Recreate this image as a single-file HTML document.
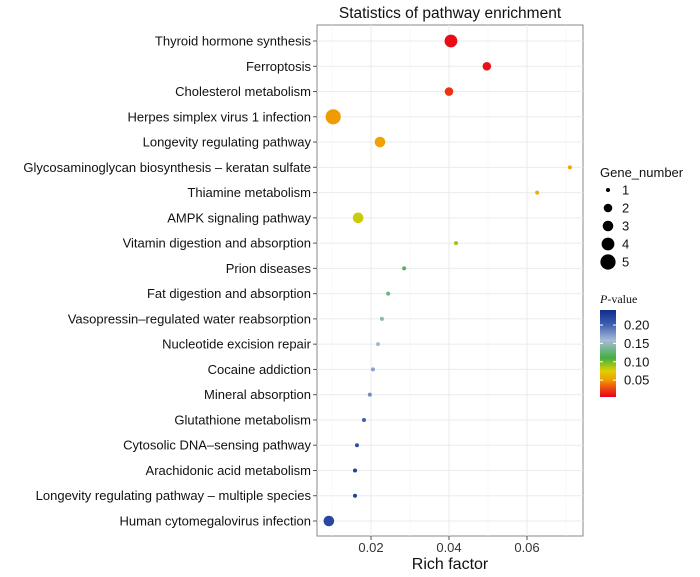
<!DOCTYPE html>
<html><head><meta charset="utf-8"><style>
body{margin:0;background:#fff;}
svg{display:block;font-family:"Liberation Sans",Arial,sans-serif;}
</style></head><body>
<svg id="chart" width="700" height="577" viewBox="0 0 700 577">
<defs>
<linearGradient id="pgrad" x1="0" y1="1" x2="0" y2="0">
<stop offset="0" stop-color="#e8001a"/>
<stop offset="0.11" stop-color="#f05010"/>
<stop offset="0.2" stop-color="#f0a000"/>
<stop offset="0.3" stop-color="#e0d000"/>
<stop offset="0.45" stop-color="#40b040"/>
<stop offset="0.65" stop-color="#a8bcd8"/>
<stop offset="0.83" stop-color="#4060b0"/>
<stop offset="1" stop-color="#102c90"/>
</linearGradient>
</defs>
<text x="450" y="18" font-size="15.5" text-anchor="middle" fill="#111">Statistics of pathway enrichment</text>
<rect x="317" y="25" width="266" height="511" fill="#fff" stroke="#888" stroke-width="1"/>
<g id="grid"></g>
<g id="ylabels"></g>
<g id="xticks"></g>
<g id="points"></g>
<text x="450" y="569" font-size="16" text-anchor="middle" fill="#111">Rich factor</text>
<g>
<text x="600" y="177" font-size="13" fill="#111">Gene_number</text>
<g id="sizeleg"></g>
</g>
<g>
<text x="600" y="303" font-size="12" font-family="Liberation Serif,serif" fill="#111"><tspan font-style="italic">P</tspan>-value</text>
<rect x="600" y="310" width="16" height="87" fill="url(#pgrad)"/>
<g id="colleg"></g>
</g>
</svg>
<script>
const pathways=["Thyroid hormone synthesis","Ferroptosis","Cholesterol metabolism","Herpes simplex virus 1 infection","Longevity regulating pathway","Glycosaminoglycan biosynthesis \u2013 keratan sulfate","Thiamine metabolism","AMPK signaling pathway","Vitamin digestion and absorption","Prion diseases","Fat digestion and absorption","Vasopressin\u2013regulated water reabsorption","Nucleotide excision repair","Cocaine addiction","Mineral absorption","Glutathione metabolism","Cytosolic DNA\u2013sensing pathway","Arachidonic acid metabolism","Longevity regulating pathway \u2013 multiple species","Human cytomegalovirus infection"];
const richFactor=[0.0405,0.0497,0.040,0.0103,0.0223,0.071,0.0626,0.0167,0.0418,0.0285,0.0244,0.0228,0.0218,0.0205,0.0197,0.0182,0.0164,0.0159,0.0159,0.0092];
const geneNumber=[4,2,2,5,3,1,1,3,1,1,1,1,1,1,1,1,1,1,1,3];
const pValue=[0.008,0.01,0.02,0.05,0.053,0.055,0.06,0.08,0.09,0.12,0.13,0.145,0.155,0.17,0.18,0.2,0.215,0.225,0.225,0.22];
const xTicks=[0.02,0.04,0.06];
const xTickLabels=["0.02","0.04","0.06"];
const sizeLegendValues=[1,2,3,4,5];
const colorLegendValues=[0.20,0.15,0.10,0.05];

const NS="http://www.w3.org/2000/svg";
const x=v=>371+(v-0.02)*3900;
const y=i=>41+i*(480/19);
const r=n=>[0,2,4.3,5.3,6.4,7.6][n];
const pY=p=>397-(p-0.004)/(0.241-0.004)*87;
const stops=[[0.004,[232,0,26]],[0.03,[240,80,16]],[0.0514,[240,160,0]],[0.0751,[224,208,0]],[0.1107,[64,176,64]],[0.158,[168,188,216]],[0.2,[64,96,176]],[0.241,[16,44,144]]];
function col(p){for(let k=1;k<stops.length;k++){if(p<=stops[k][0]||k==stops.length-1){const a=stops[k-1],b=stops[k];let t=(p-a[0])/(b[0]-a[0]);t=Math.max(0,Math.min(1,t));return 'rgb('+a[1].map((c,j)=>Math.round(c+(b[1][j]-c)*t)).join(',')+')';}}}
function mk(tag,at,parent){const e=document.createElementNS(NS,tag);for(const k in at)e.setAttribute(k,at[k]);parent.appendChild(e);return e;}
const grid=document.getElementById('grid'),yl=document.getElementById('ylabels'),xt=document.getElementById('xticks'),pts=document.getElementById('points');
[0.01,0.03,0.05,0.07].forEach(v=>{const l=mk('line',{x1:x(v),x2:x(v),y1:25,y2:536,stroke:'#f3f3f3','stroke-width':0.6},grid);});
xTicks.forEach((v,i)=>{const l=mk('line',{x1:x(v),x2:x(v),y1:25,y2:536,stroke:'#ebebeb','stroke-width':1},grid);
const t=mk('line',{x1:x(v),x2:x(v),y1:536,y2:540,stroke:'#555'},xt);
const tx=mk('text',{x:x(v),y:552,'font-size':13,'text-anchor':'middle',fill:'#333'},xt);tx.textContent=xTickLabels[i];});
pathways.forEach((p,i)=>{const l=mk('line',{x1:317,x2:583,y1:y(i),y2:y(i),stroke:'#ebebeb'},grid);
const t=mk('line',{x1:313,x2:317,y1:y(i),y2:y(i),stroke:'#555'},yl);
const tx=mk('text',{x:311,y:y(i)+4.5,'font-size':13,'text-anchor':'end',fill:'#111'},yl);tx.textContent=p;
const c=mk('circle',{cx:x(richFactor[i]),cy:y(i),r:r(geneNumber[i]),fill:col(pValue[i])},pts);});
const sl=document.getElementById('sizeleg');
sizeLegendValues.forEach((n,i)=>{const yy=190+i*18;const c=mk('circle',{cx:608,cy:yy,r:r(n),fill:'#000'},sl);
const t=mk('text',{x:622,y:yy+4.5,'font-size':13,fill:'#111'},sl);t.textContent=n;});
const cl=document.getElementById('colleg');
colorLegendValues.forEach(v=>{const yy=pY(v);const a=mk('line',{x1:600,x2:603,y1:yy,y2:yy,stroke:'#fff'},cl);
const b=mk('line',{x1:613,x2:616,y1:yy,y2:yy,stroke:'#fff'},cl);
const t=mk('text',{x:624,y:yy+4.5,'font-size':13,fill:'#111'},cl);t.textContent=v.toFixed(2);});
</script>
</body></html>
